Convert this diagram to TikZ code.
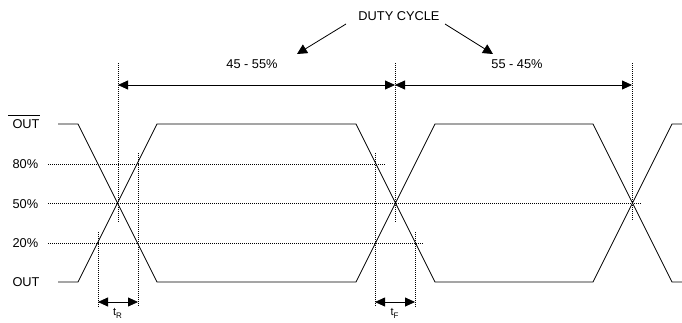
\documentclass[tikz,border=0pt]{standalone}
\usepackage{fontspec}
\setmainfont{Liberation Sans}
\usetikzlibrary{arrows.meta}

\begin{document}
\begin{tikzpicture}[x=1pt,y=-1pt,
		lbl/.style={font=\fontsize{12.8}{14}\selectfont},
		tlbl/.style={font=\fontsize{11}{12}\selectfont,inner sep=0pt,anchor=base},
		guide/.style={line width=0.6pt,dash pattern=on 1pt off 1pt},
		wave/.style={line width=0.8pt},
		span/.style={line width=0.8pt,{Triangle[length=10pt,width=9pt]}-{Triangle[length=10pt,width=9pt]}},
		pointer/.style={line width=0.8pt,-{Triangle[length=10pt,width=10pt]}}]
		\useasboundingbox (0,0) rectangle (682,322);
		
		% level labels
		\node[lbl,anchor=west] at (9,124) (outbar) {OUT};
		\draw[line width=0.8pt] (8,115) -- (40,115);
		\node[lbl,anchor=west] at (9,164) (p80) {80\%};
		\node[lbl,anchor=west] at (9,204) (p50) {50\%};
		\node[lbl,anchor=west] at (9,243) (p20) {20\%};
		\node[lbl,anchor=west] at (9,282) (out) {OUT};
		
		% level guides
		\draw[guide] (48,164) -- (386,164);
		\draw[guide] (48,203.5) -- (642,203.5);
		\draw[guide] (48,243) -- (423,243);
		
		% edge guides
		\draw[guide] (118,63) -- (118,222);
		\draw[guide] (98,232) -- (98,307);
		\draw[guide] (138,153) -- (138,307);
		\draw[guide] (395,63) -- (395,222);
		\draw[guide] (375,153) -- (375,307);
		\draw[guide] (415,232) -- (415,307);
		\draw[guide] (632,63) -- (632,220);
		
		% waveforms
		\draw[wave] (58,282) -- (78,282) -- (157,124) -- (356,124) -- (435,282) -- (593,282) -- (672,124) -- (682,124);
		\draw[wave] (58,124) -- (78,124) -- (157,282) -- (356,282) -- (435,124) -- (593,124) -- (672,282) -- (682,282);
		
		% duty cycle
		\coordinate (d1) at (118,85);
		\coordinate (d2) at (395,85);
		\coordinate (d3) at (632,85);
		\draw[span] (d1) -- (d2);
		\draw[span] (d2) -- (d3);
		\node[lbl] at (252,64) (lo) {45 - 55\%};
		\node[lbl] at (517,64) (hi) {55 - 45\%};
		\node[lbl] at (399,16) (duty) {DUTY CYCLE};
		\coordinate (pl) at (297,54);
		\coordinate (pr) at (493,54);
		\draw[pointer] (346,24) -- (pl);
		\draw[pointer] (445,24) -- (pr);
		
		% rise and fall times
		\coordinate (r1) at (98,302);
		\coordinate (r2) at (138,302);
		\coordinate (f1) at (375,302);
		\coordinate (f2) at (415,302);
		\draw[span] (r1) -- (r2);
		\draw[span] (f1) -- (f2);
		\node[tlbl] at (117.5,315.5) (tr) {t\raisebox{-3pt}{\fontsize{8}{9}\selectfont R}};
		\node[tlbl] at (394.5,315.5) (tf) {t\raisebox{-3pt}{\fontsize{8}{9}\selectfont F}};
\end{tikzpicture}
\end{document}
